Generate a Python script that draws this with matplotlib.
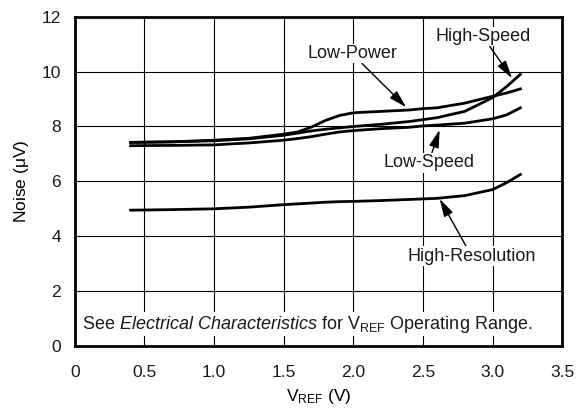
import matplotlib
matplotlib.use('Agg')
import matplotlib.pyplot as plt

plt.rcParams['font.family'] = 'Liberation Sans'
plt.rcParams['mathtext.fontset'] = 'custom'
plt.rcParams['mathtext.rm'] = 'Liberation Sans'
plt.rcParams['mathtext.it'] = 'Liberation Sans:italic'
plt.rcParams['text.color'] = '#1a1a1a'

# Noise vs reference voltage
vref = [0.4, 0.7, 1.0, 1.25, 1.5, 1.6, 1.7, 1.8, 1.9, 2.0, 2.2, 2.4, 2.5, 2.6, 2.8, 3.0, 3.1, 3.2]
low_power = [7.42, 7.44, 7.5, 7.57, 7.72, 7.8, 7.98, 8.22, 8.4, 8.5, 8.55, 8.6, 8.65, 8.68, 8.85, 9.1, 9.22, 9.37]
high_speed = [7.42, 7.44, 7.48, 7.55, 7.68, 7.76, 7.84, 7.9, 7.95, 8.0, 8.08, 8.18, 8.25, 8.32, 8.55, 9.05, 9.45, 9.9]
low_speed = [7.3, 7.31, 7.33, 7.4, 7.5, 7.56, 7.63, 7.72, 7.8, 7.85, 7.92, 7.97, 8.02, 8.05, 8.12, 8.28, 8.42, 8.68]
high_res = [4.95, 4.97, 5.0, 5.06, 5.15, 5.18, 5.21, 5.24, 5.26, 5.27, 5.3, 5.34, 5.36, 5.38, 5.48, 5.7, 5.95, 6.25]

fs = 12.5

fig = plt.figure(figsize=(5.76, 4.08), dpi=100)
ax = fig.add_axes([0.130, 0.152, 0.846, 0.807])

for ys in [low_power, high_speed, low_speed, high_res]:
    ax.plot(vref, ys, color='black', linewidth=2, zorder=3)

ax.set_xlim(0, 3.5)
ax.set_ylim(0, 12)
ax.set_xticks([0, 0.5, 1.0, 1.5, 2.0, 2.5, 3.0, 3.5])
ax.set_xticklabels(['0', '0.5', '1.0', '1.5', '2.0', '2.5', '3.0', '3.5'])
ax.set_yticks(range(0, 13, 2))
ax.tick_params(length=0, labelsize=fs, labelcolor='#1a1a1a')
ax.tick_params(axis='x', pad=14)
ax.tick_params(axis='y', pad=10)
ax.grid(True, color='black', linewidth=0.8)
ax.set_axisbelow(True)
for s in ax.spines.values():
    s.set_linewidth(2)

ax.set_ylabel(r'Noise ($\mathregular{\mu}$V)', fontsize=fs, labelpad=8)
ax.set_xlabel(r'V$_{\mathregular{REF}}$ (V)', fontsize=fs, labelpad=5)

bb = dict(facecolor='white', edgecolor='none', pad=1)
arrow = dict(arrowstyle='-|>,head_length=0.9,head_width=0.25', color='black', linewidth=1,
             mutation_scale=12, shrinkA=0, shrinkB=0)

ax.annotate('Low-Power', xy=(2.38, 8.7), xytext=(1.99, 10.66), ha='center', va='center',
            fontsize=13, bbox=bb, arrowprops=arrow, zorder=4)
ax.annotate('High-Speed', xy=(3.14, 9.76), xytext=(2.93, 11.28), ha='center', va='center',
            fontsize=13, bbox=bb, arrowprops=arrow, zorder=4)
ax.annotate('Low-Speed', xy=(2.62, 7.88), xytext=(2.54, 6.67), ha='center', va='center',
            fontsize=13, bbox=bb, arrowprops=arrow, zorder=4)
ax.annotate('High-Resolution', xy=(2.62, 5.36), xytext=(2.85, 3.27), ha='center', va='center',
            fontsize=13, bbox=bb, arrowprops=arrow, zorder=4)

ax.text(0.05, 0.79, r'See $\mathit{Electrical\ Characteristics}$ for V$_{\mathregular{REF}}$ Operating Range.',
        ha='left', va='center', fontsize=13, bbox=bb, zorder=4)

fig.savefig('out.png', dpi=100)
